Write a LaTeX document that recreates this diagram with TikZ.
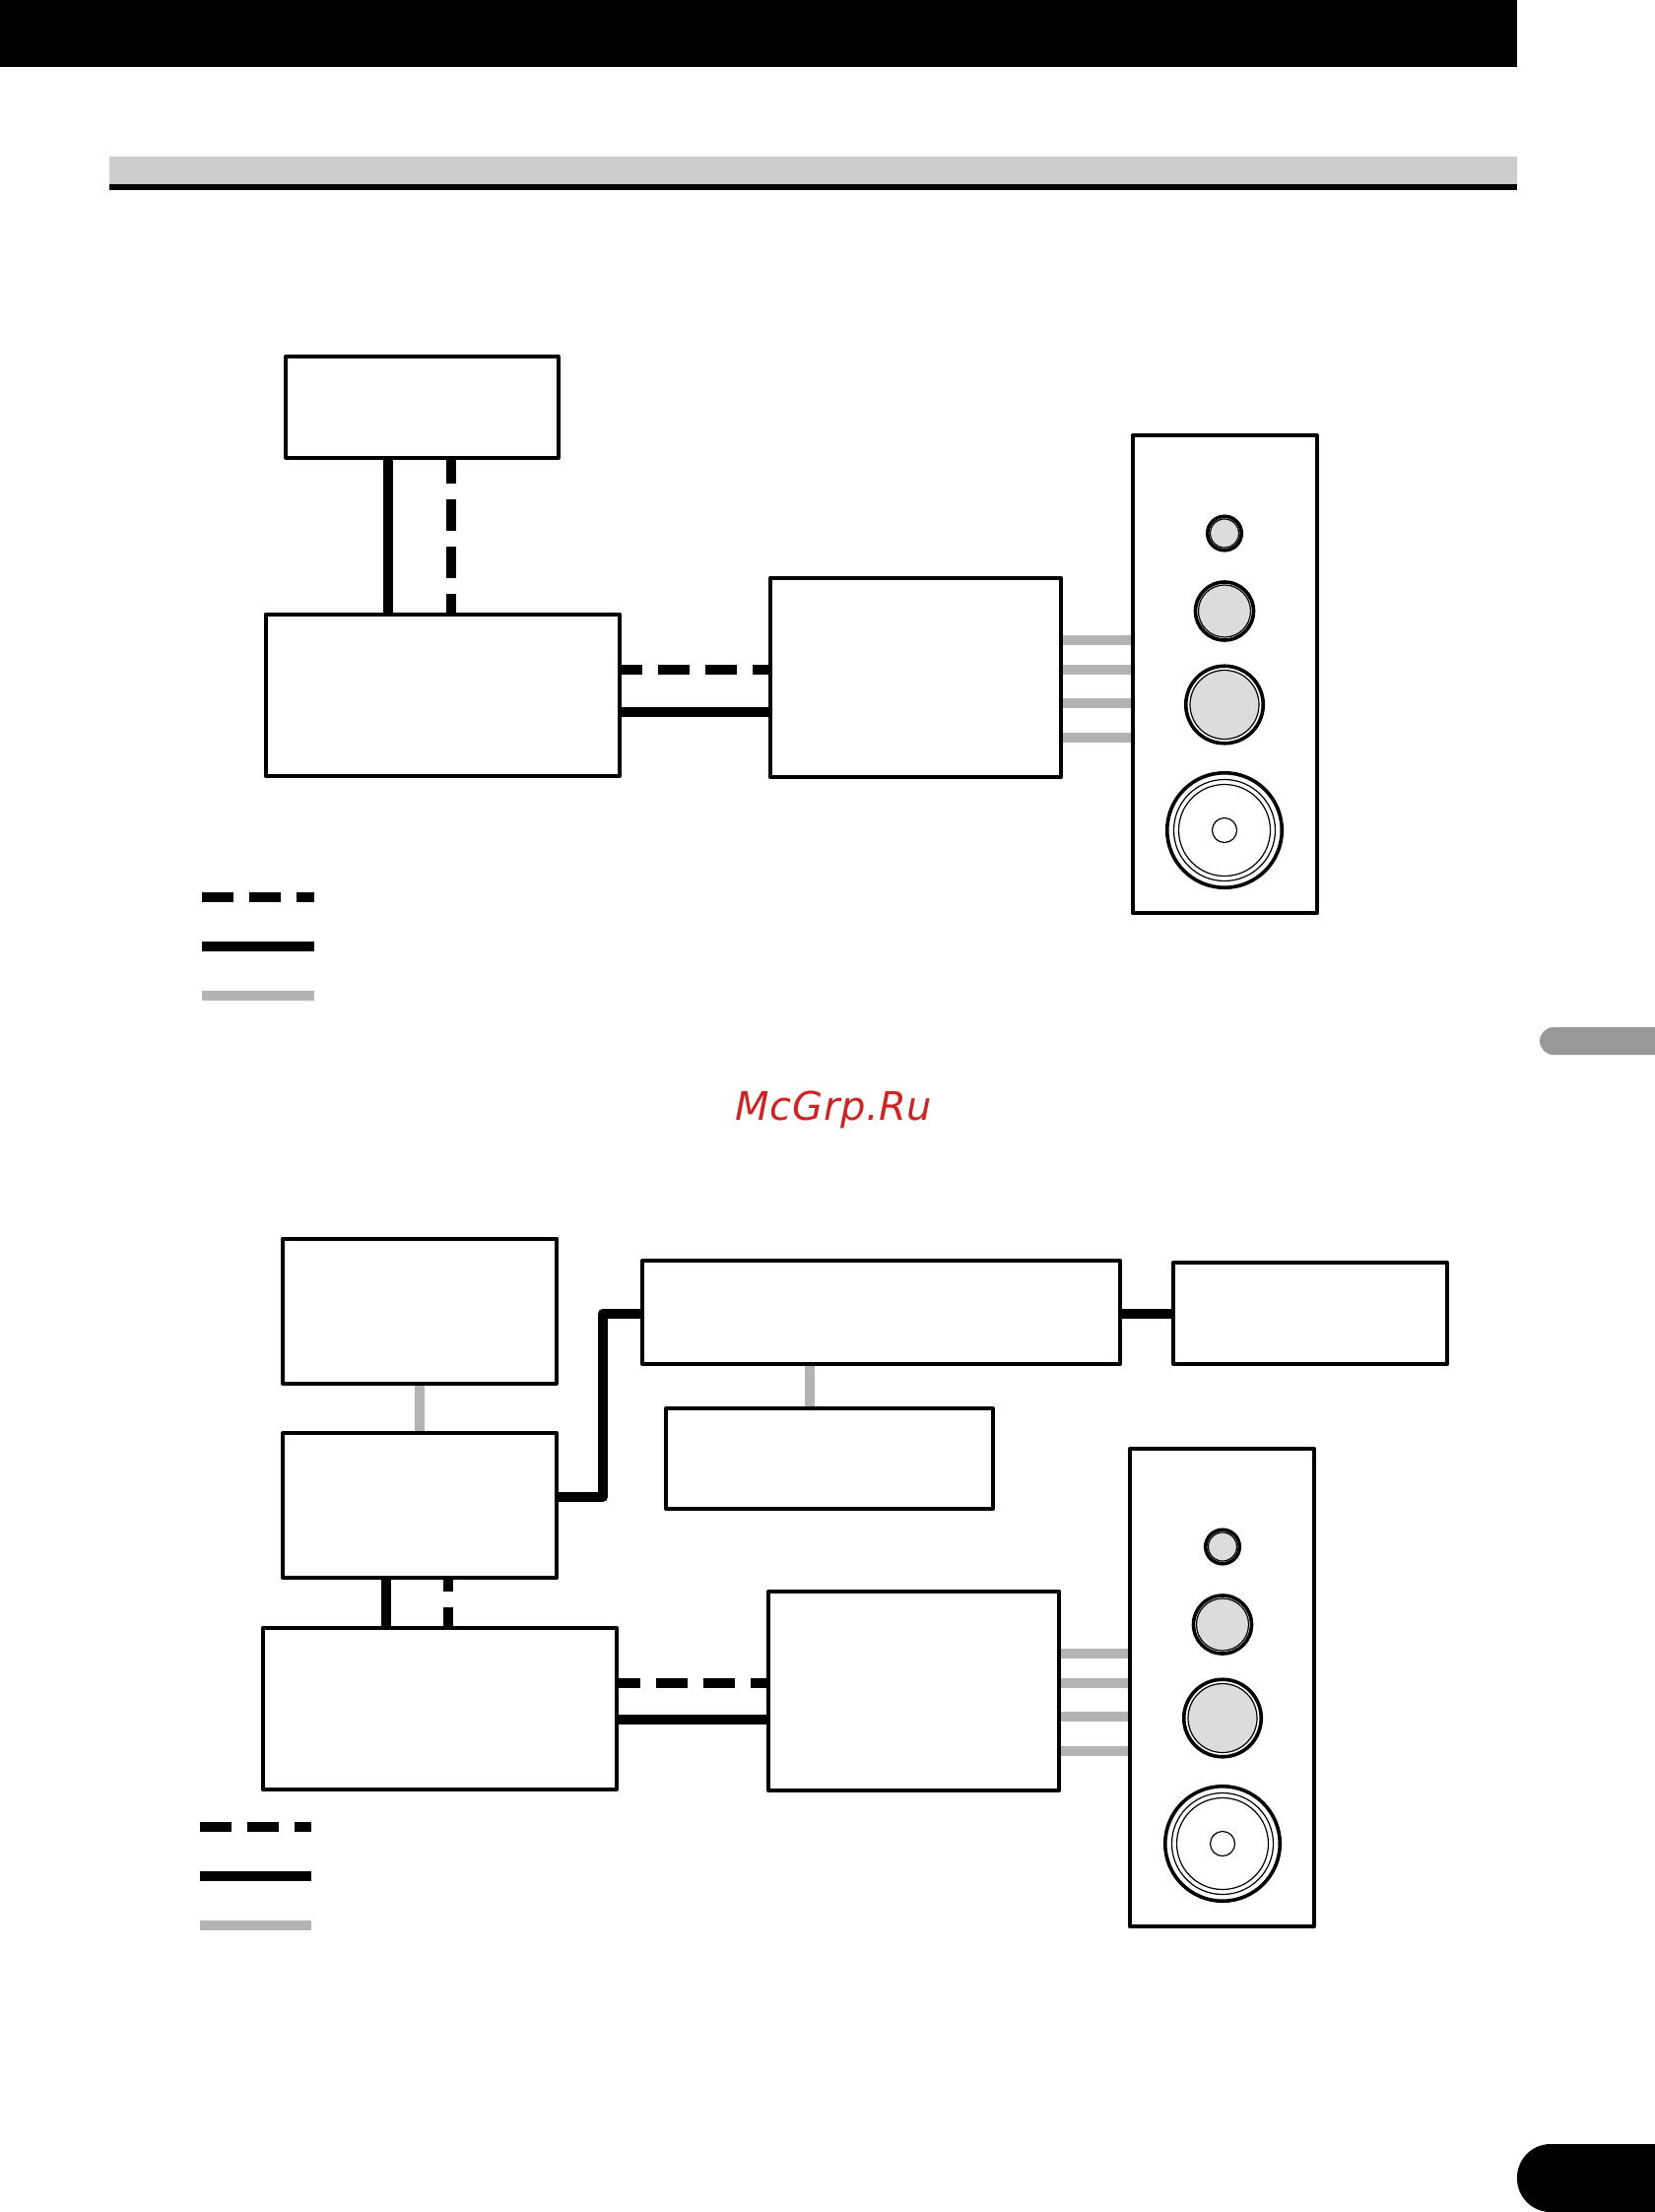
\documentclass[tikz,border=0pt]{standalone}
\usepackage{fontspec}
\newfontfamily\markfont[LetterSpace=1.5]{DejaVu Sans}
\definecolor{linkgray}{HTML}{B3B3B3}
\definecolor{conegray}{HTML}{DCDCDC}
\definecolor{bandgray}{HTML}{CCCCCC}
\definecolor{tabgray}{HTML}{999999}
\definecolor{markred}{HTML}{CF2424}
\tikzset{
  unitbox/.style={draw,line width=4pt,line join=round,inner sep=0pt},
  ringa/.style={circle,draw,line width=3.6pt,inner sep=0pt,fill=white},
  ringb/.style={circle,draw,line width=1.2pt,inner sep=0pt},
  solidlink/.style={line width=10pt,line join=round},
  dashlink/.style={line width=10pt,dash pattern=on 32pt off 16pt},
  graylink/.style={line width=10pt,linkgray}
}
\begin{document}
\begin{tikzpicture}[x=1pt,y=-1pt]
  \useasboundingbox (0,0) rectangle (1680,2246);

  % page furniture
  \fill (0,0) rectangle (1540,68);
  \fill[bandgray] (111,159) rectangle (1540,187);
  \fill (111,187) rectangle (1540,193);
  \fill[tabgray,rounded corners=14pt] (1563,1043) rectangle (1720,1071);
  \fill[rounded corners=34pt] (1540,2177) rectangle (1760,2246);
  \node[text=markred,font=\markfont\itshape\fontsize{40}{48}\selectfont,anchor=base] (mark) at (846.5,1137) {McGrp.Ru};

  % speakers
  \foreach \bx/\sx/\sy/\sn in {1243/1243/0/a,1240.3/1241/1029/b}{
    \node[unitbox,minimum width=187pt,minimum height=485pt] (spk\sn) at (\bx,684.5+\sy) {};
    \node[ringa,minimum size=34.5pt] (ta\sn) at (\sx,541.5+\sy) {};
    \node[ringb,fill=conegray,minimum size=29pt] (tb\sn) at (\sx,541.5+\sy) {};
    \node[ringa,minimum size=59pt] (ma\sn) at (\sx,620.5+\sy) {};
    \node[ringb,fill=conegray,minimum size=53pt] (mb\sn) at (\sx,620.5+\sy) {};
    \node[ringa,minimum size=78.5pt] (la\sn) at (\sx,715.5+\sy) {};
    \node[ringb,fill=conegray,minimum size=70pt] (lb\sn) at (\sx,715.5+\sy) {};
    \node[ringa,minimum size=116.5pt] (wa\sn) at (\sx,843+\sy) {};
    \node[ringb,minimum size=103pt] (wb\sn) at (\sx,843+\sy) {};
    \node[ringb,minimum size=93pt] (wc\sn) at (\sx,843+\sy) {};
    \node[ringb,minimum size=25pt] (wd\sn) at (\sx,843+\sy) {};
  }

  % upper system
  \node[unitbox,minimum width=277pt,minimum height=102.7pt] (srca) at (428.5,413.3) {};
  \node[unitbox,minimum width=359.5pt,minimum height=164pt] (proca) at (449.3,705.7) {};
  \node[unitbox,minimum width=295pt,minimum height=202pt] (ampa) at (929.5,687.8) {};
  \coordinate (xa) at (394,0);
  \coordinate (xb) at (458,0);
  \coordinate (ya) at (0,680);
  \coordinate (yb) at (0,723);
  \draw[solidlink] (srca.south -| xa) -- (proca.north -| xa);
  \draw[dashlink,dash phase=8pt] (srca.south -| xb) -- (proca.north -| xb);
  \draw[dashlink,dash phase=11pt] (proca.east |- ya) -- (ampa.west |- ya);
  \draw[solidlink] (proca.east |- yb) -- (ampa.west |- yb);
  \foreach \ys in {650,680,714,749}{
    \coordinate (ys) at (0,\ys);
    \draw[graylink] (ampa.east |- ys) -- (spka.west |- ys);
  }

  % legend of upper system
  \draw[dashlink] (205,911) -- (319,911);
  \draw[solidlink] (205,961) -- (319,961);
  \draw[graylink] (205,1011) -- (319,1011);

  % lower system
  \node[unitbox,minimum width=278pt,minimum height=147pt] (srcb) at (426,1331) {};
  \node[unitbox,minimum width=278pt,minimum height=147pt] (unit) at (426,1528.5) {};
  \node[unitbox,minimum width=359.5pt,minimum height=164pt] (procb) at (446.3,1735) {};
  \node[unitbox,minimum width=485pt,minimum height=105pt] (wide) at (894.5,1332.5) {};
  \node[unitbox,minimum width=278pt,minimum height=103pt] (side) at (1330,1333.5) {};
  \node[unitbox,minimum width=332pt,minimum height=102pt] (under) at (842,1481) {};
  \node[unitbox,minimum width=295pt,minimum height=202pt] (ampb) at (927.5,1717) {};
  \coordinate (xc) at (392,0);
  \coordinate (xd) at (455,0);
  \coordinate (xe) at (612,0);
  \coordinate (xf) at (822,0);
  \coordinate (yc) at (0,1709);
  \coordinate (yd) at (0,1746);
  \coordinate (ye) at (0,1520);
  \coordinate (yf) at (0,1334);
  \draw[graylink] (srcb) -- (unit);
  \draw[solidlink] (unit.south -| xc) -- (procb.north -| xc);
  \draw[dashlink,dash phase=20pt] (unit.south -| xd) -- (procb.north -| xd);
  \draw[solidlink] (unit.east |- ye) -- (xe |- ye) -- (xe |- yf) -- (wide.west |- yf);
  \draw[solidlink] (wide.east |- yf) -- (side.west |- yf);
  \draw[graylink] (wide.south -| xf) -- (under.north -| xf);
  \draw[dashlink,dash phase=10pt] (procb.east |- yc) -- (ampb.west |- yc);
  \draw[solidlink] (procb.east |- yd) -- (ampb.west |- yd);
  \foreach \ys in {1679,1709,1743,1778}{
    \coordinate (ys) at (0,\ys);
    \draw[graylink] (ampb.east |- ys) -- (spkb.west |- ys);
  }

  % legend of lower system
  \draw[dashlink] (203,1855) -- (316,1855);
  \draw[solidlink] (203,1905) -- (316,1905);
  \draw[graylink] (203,1955) -- (316,1955);
\end{tikzpicture}
\end{document}
